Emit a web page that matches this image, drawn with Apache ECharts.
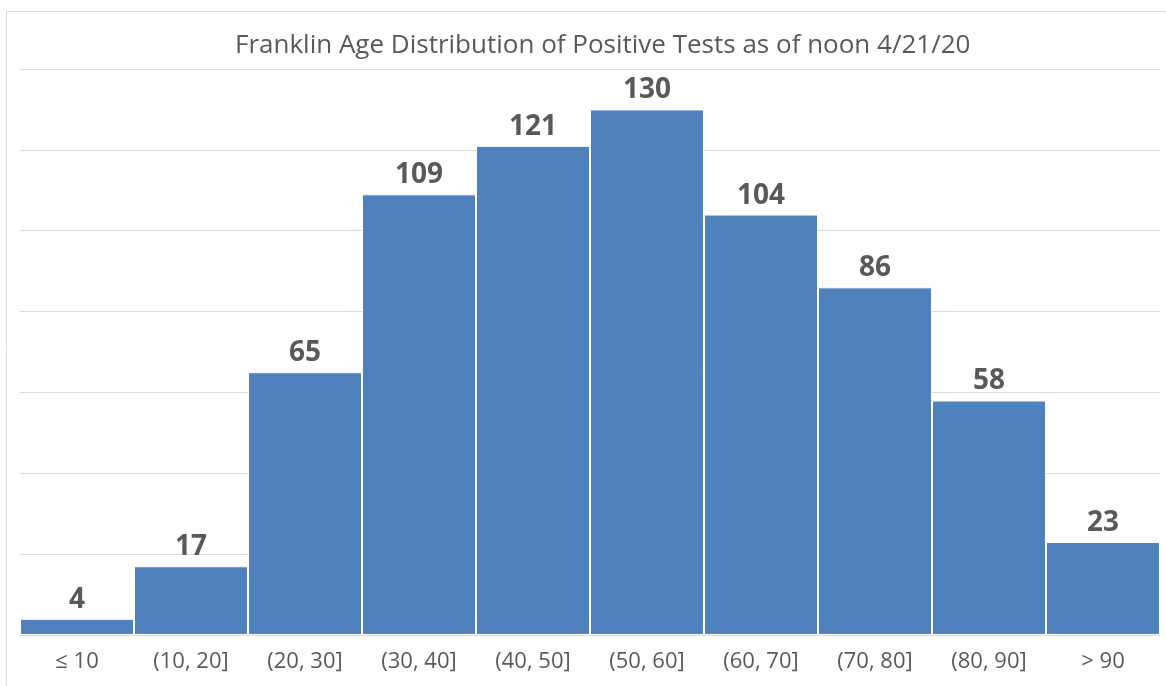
<!DOCTYPE html>
<html><head><meta charset="utf-8">
<script src="https://cdn.jsdelivr.net/npm/echarts@6/dist/echarts.min.js"></script>
<style>html,body{margin:0;padding:0;background:#fff}#c{width:1166px;height:686px}</style>
</head><body><div id="c"></div>
<script>
const categories = ["≤ 10","(10, 20]","(20, 30]","(30, 40]","(40, 50]","(50, 60]","(60, 70]","(70, 80]","(80, 90]","> 90"];
const counts = [4,17,65,109,121,130,104,86,58,23];
const titleText = "Franklin Age Distribution of Positive Tests as of noon 4/21/20";
const chart = echarts.init(document.getElementById('c'));
chart.setOption({
  animation:false,
  title:{text:titleText,left:230,top:28,textStyle:{fontFamily:'Open Sans',fontSize:26,fontWeight:'normal',color:'#595959'}},
  graphic:[{type:'rect',shape:{x:6.5,y:11.5,width:1170,height:690},style:{fill:'none',stroke:'#d9d9d9',lineWidth:1},silent:true,z:-1}],
  grid:{left:20,right:6,top:69,bottom:51},
  xAxis:{type:'category',data:categories,axisTick:{show:false},
    axisLine:{lineStyle:{color:'#d9d9d9'}},
    axisLabel:{fontFamily:'Open Sans',fontSize:22,color:'#595959',margin:16}},
  yAxis:{type:'value',min:0,max:140,interval:20,axisLabel:{show:false},axisLine:{show:false},axisTick:{show:false},
    splitLine:{lineStyle:{color:'#d9d9d9'}}},
  series:[{type:'bar',data:counts,barCategoryGap:'0%',
    itemStyle:{color:'#4f81bd',borderColor:'#ffffff',borderWidth:1},
    label:{show:true,position:'top',distance:5,fontFamily:'Open Sans',fontWeight:'bold',fontSize:28,color:'#595959'}}]
});
</script></body></html>
